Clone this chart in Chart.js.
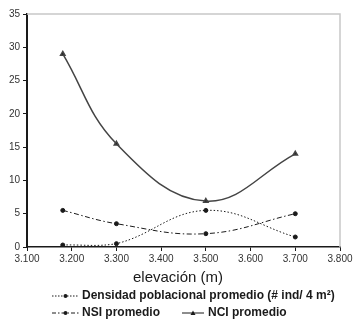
<!DOCTYPE html>
<html>
<head>
    <style>
        body { margin: 0; background: #fff; }
        #wrap { width: 355px; height: 331px; }
    </style>
    <script src="https://cdn.jsdelivr.net/npm/chart.js"></script>
</head>
<body>
    <div id="wrap"><canvas id="myChart" width="355" height="331"></canvas></div>
    <script>
        var elevacion = [3180, 3300, 3500, 3700];
        var densidad = [0.3, 0.5, 5.5, 1.5];
        var nsi = [5.5, 3.5, 2.0, 5.0];
        var nci = [29.0, 15.5, 6.9, 14.0];
        var seriesNames = ['Densidad poblacional promedio (# ind/ 4 m\u00B2)', 'NSI promedio', 'NCI promedio'];
        var xTitle = 'elevaci\u00F3n (m)';

        function pts(vals) {
            return elevacion.map(function (x, i) { return { x: x, y: vals[i] }; });
        }

        var ink = '#1a1a1a';
        var fontFam = 'Arial, "Liberation Sans", sans-serif';

        // frame, axis title and legend drawn by hand, like the original Excel figure
        var framePlugin = {
            id: 'frame',
            afterDraw: function (chart) {
                var c = chart.ctx, a = chart.chartArea;
                c.save();
                c.strokeStyle = '#c8c8c8';
                c.lineWidth = 1.5;
                c.beginPath();
                c.moveTo(a.left, a.top);
                c.lineTo(a.right, a.top);
                c.lineTo(a.right, a.bottom);
                c.stroke();

                c.fillStyle = ink;
                c.textAlign = 'center';
                c.textBaseline = 'middle';
                c.font = '15px ' + fontFam;
                c.fillText(xTitle, 178, 278);

                function sample(x, y, w, dash, style) {
                    c.strokeStyle = ink;
                    c.lineWidth = 1;
                    c.setLineDash(dash);
                    c.beginPath();
                    c.moveTo(x, y);
                    c.lineTo(x + w, y);
                    c.stroke();
                    c.setLineDash([]);
                    c.fillStyle = ink;
                    c.beginPath();
                    var m = x + w / 2;
                    if (style === 'tri') {
                        c.moveTo(m, y - 2.5);
                        c.lineTo(m + 2.5, y + 2);
                        c.lineTo(m - 2.5, y + 2);
                        c.closePath();
                    } else {
                        c.arc(m, y, 2, 0, Math.PI * 2);
                    }
                    c.fill();
                }
                c.font = 'bold 12px ' + fontFam;
                c.textAlign = 'left';
                sample(52, 296, 27, [1.5, 1.5], 'dot');
                c.fillText(seriesNames[0], 82, 296);
                sample(52, 313, 27, [4, 2, 1.5, 2], 'dot');
                c.fillText(seriesNames[1], 82, 313);
                sample(182, 313, 22, [], 'tri');
                c.fillText(seriesNames[2], 208, 313);
                c.restore();
            }
        };

        var ctx = document.getElementById('myChart').getContext('2d');
        var myChart = new Chart(ctx, {
            type: 'line',
            data: {
                datasets: [{
                    label: seriesNames[0],
                    data: pts(densidad),
                    borderColor: ink,
                    backgroundColor: ink,
                    borderWidth: 1,
                    borderDash: [1.5, 2],
                    pointStyle: 'circle',
                    pointRadius: 2,
                    tension: 0.4
                }, {
                    label: seriesNames[1],
                    data: pts(nsi),
                    borderColor: ink,
                    backgroundColor: ink,
                    borderWidth: 1,
                    borderDash: [5, 2.5, 1.5, 2.5],
                    pointStyle: 'circle',
                    pointRadius: 2,
                    tension: 0.4
                }, {
                    label: seriesNames[2],
                    data: pts(nci),
                    borderColor: '#444',
                    backgroundColor: ink,
                    borderWidth: 1.5,
                    pointStyle: 'triangle',
                    pointRadius: 2.5,
                    tension: 0.4
                }]
            },
            options: {
                responsive: false,
                animation: false,
                layout: { padding: { top: 14, right: 15, bottom: 60, left: 0 } },
                plugins: {
                    legend: { display: false },
                    tooltip: { enabled: false }
                },
                scales: {
                    x: {
                        type: 'linear',
                        min: 3100,
                        max: 3800,
                        afterFit: function (s) { s.height = 24; },
                        ticks: {
                            stepSize: 100,
                            color: '#333',
                            font: { size: 10, family: fontFam },
                            padding: 2,
                            maxRotation: 0,
                            callback: function (v) { return (v / 1000).toFixed(3); }
                        },
                        grid: { drawOnChartArea: false, color: ink, tickLength: 4 },
                        border: { color: ink, width: 1.5 }
                    },
                    y: {
                        min: 0,
                        max: 35,
                        afterFit: function (s) { s.width = 27; },
                        ticks: {
                            stepSize: 5,
                            color: '#333',
                            font: { size: 10, family: fontFam },
                            padding: 3
                        },
                        grid: { drawOnChartArea: false, color: ink, tickLength: 4 },
                        border: { color: ink, width: 2 }
                    }
                }
            },
            plugins: [framePlugin]
        });
    </script>
</body>
</html>
